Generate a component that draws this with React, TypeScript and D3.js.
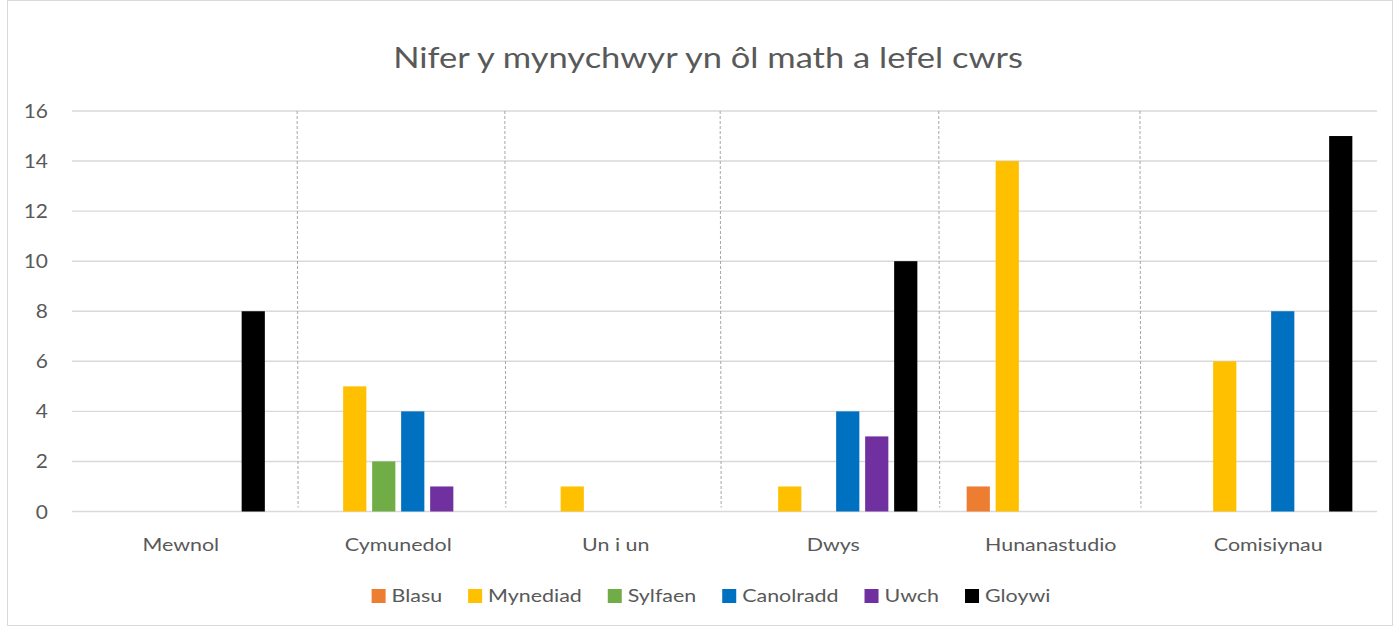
import * as d3 from 'd3';
import { useEffect, useRef } from 'react';

const categories = ['Mewnol', 'Cymunedol', 'Un i un', 'Dwys', 'Hunanastudio', 'Comisiynau'];
const seriesNames = ['Blasu', 'Mynediad', 'Sylfaen', 'Canolradd', 'Uwch', 'Gloywi'];
const seriesColors = ['#ED7D31', '#FFC000', '#70AD47', '#0070C0', '#7030A0', '#000000'];

// values per series, one per category (0 = no bar)
const blasu = [0, 0, 0, 0, 1, 0];
const mynediad = [0, 5, 1, 1, 14, 6];
const sylfaen = [0, 2, 0, 0, 0, 0];
const canolradd = [0, 4, 0, 4, 0, 8];
const uwch = [0, 1, 0, 3, 0, 0];
const gloywi = [8, 0, 0, 10, 0, 15];
const seriesValues = [blasu, mynediad, sylfaen, canolradd, uwch, gloywi];

const yTicks = [0, 2, 4, 6, 8, 10, 12, 14, 16];
// hand-drawn dashed dividers, in category units from the left edge
const dividers = [1.035, 1.99, 2.98, 3.985, 4.91];

const title = 'Nifer y mynychwyr yn ôl math a lefel cwrs';
const FONT = 'Lato, "Open Sans", sans-serif';
const TEXT = '#595959';
// the original text is wider than Lato, stretch it a bit
const STRETCH = 1.19;

export default function App() {
  const ref = useRef<SVGSVGElement>(null);

  useEffect(() => {
    if (!ref.current) return;
    const W = 1400,
      H = 628;
    const margin = { top: 111, right: 23, bottom: 116.5, left: 72 };
    const width = W - margin.left - margin.right,
      height = H - margin.top - margin.bottom;

    const root = d3.select(ref.current);
    root.selectAll('*').remove();

    // chart frame
    root
      .append('rect')
      .attr('x', 7.5)
      .attr('y', 0.5)
      .attr('width', 1385)
      .attr('height', 625)
      .attr('fill', '#fff')
      .attr('stroke', '#d9d9d9');

    root
      .append('text')
      .text(title)
      .attr('transform', `translate(708,68) scale(${STRETCH},1)`)
      .attr('text-anchor', 'middle')
      .attr('font-family', FONT)
      .attr('font-size', 29)
      .attr('fill', TEXT);

    const svg = root.append('g').attr('transform', `translate(${margin.left},${margin.top})`);

    const x0 = d3.scaleBand().domain(categories).range([0, width]).padding(0);
    const x1 = d3
      .scaleBand()
      .domain(seriesNames)
      .range([-87, 87])
      .paddingInner(0.2)
      .paddingOuter(0.1);
    const y = d3.scaleLinear().domain([0, 16]).range([height, 0]);

    // grid
    svg
      .append('g')
      .selectAll('line')
      .data(yTicks)
      .join('line')
      .attr('x1', 0)
      .attr('x2', width)
      .attr('y1', (d) => y(d))
      .attr('y2', (d) => y(d))
      .attr('stroke', '#d9d9d9')
      .attr('stroke-width', 1.4);

    // y labels
    svg
      .append('g')
      .selectAll('text')
      .data(yTicks)
      .join('text')
      .text((d) => d)
      .attr('transform', (d) => `translate(-24,${y(d) + 7}) scale(1.1,1)`)
      .attr('text-anchor', 'end')
      .attr('font-family', FONT)
      .attr('font-size', 19)
      .attr('fill', TEXT);

    // dividers
    svg
      .append('g')
      .selectAll('line')
      .data(dividers)
      .join('line')
      .attr('x1', (d) => d * x0.step())
      .attr('x2', (d) => d * x0.step() + 1)
      .attr('y1', y(16))
      .attr('y2', y(0) - 4)
      .attr('stroke', '#a6a6a6')
      .attr('stroke-width', 1)
      .attr('stroke-dasharray', '3,2');

    // bars
    const groups = svg
      .append('g')
      .selectAll('g')
      .data(categories)
      .join('g')
      .attr('transform', (c) => `translate(${(x0(c) ?? 0) + x0.bandwidth() / 2},0)`);

    groups
      .selectAll('rect')
      .data((c, ci) =>
        seriesNames
          .map((s, si) => ({ s, si, v: seriesValues[si][ci] }))
          .filter((d) => d.v > 0),
      )
      .join('rect')
      .attr('x', (d) => x1(d.s) ?? 0)
      .attr('width', x1.bandwidth())
      .attr('y', (d) => y(d.v))
      .attr('height', (d) => y(0) - y(d.v))
      .attr('fill', (d) => seriesColors[d.si]);

    // category labels
    svg
      .append('g')
      .selectAll('text')
      .data(categories)
      .join('text')
      .text((d) => d)
      .attr(
        'transform',
        (d) => `translate(${(x0(d) ?? 0) + x0.bandwidth() / 2},${height + 39}) scale(${STRETCH},1)`,
      )
      .attr('text-anchor', 'middle')
      .attr('font-family', FONT)
      .attr('font-size', 18)
      .attr('fill', TEXT);

    // legend, laid out from measured text widths and centred
    const legend = root.append('g');
    const items = legend
      .selectAll('g')
      .data(seriesNames)
      .join('g');
    items
      .append('rect')
      .attr('y', 589)
      .attr('width', 14)
      .attr('height', 14)
      .attr('fill', (d, i) => seriesColors[i]);
    items
      .append('text')
      .text((d) => d)
      .attr('transform', `translate(20,602) scale(${STRETCH},1)`)
      .attr('font-family', FONT)
      .attr('font-size', 18)
      .attr('fill', TEXT);

    let cursor = 0;
    const offsets: number[] = [];
    items.each(function () {
      const t = d3.select(this).select('text').node() as SVGTextElement;
      const w = t.getComputedTextLength() * STRETCH;
      offsets.push(cursor);
      cursor += 20 + w + 26;
    });
    const total = cursor - 26;
    const start = 711 - total / 2;
    items.attr('transform', (d, i) => `translate(${start + offsets[i]},0)`);
  }, []);

  return (
    <svg
      ref={ref}
      width={1400}
      height={628}
      style={{ position: 'absolute', left: 0, top: 0, display: 'block', background: '#fff' }}
    ></svg>
  );
}
